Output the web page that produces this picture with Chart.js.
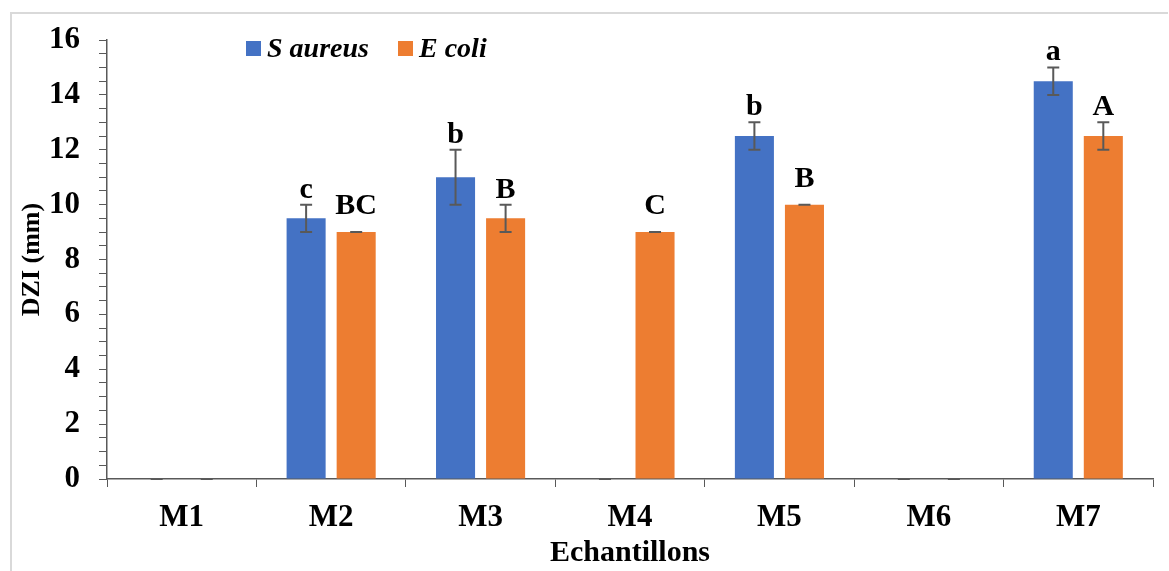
<!DOCTYPE html>
<html>
<head>
<meta charset="utf-8">
<script src="https://cdn.jsdelivr.net/npm/chart.js@4.4.1/dist/chart.umd.min.js"></script>
<style>
  html, body { margin: 0; padding: 0; background: #fff; }
  #wrap { width: 1169px; height: 571px; position: relative; }
</style>
</head>
<body>
<div id="wrap"><canvas id="dzi" width="1169" height="571"></canvas></div>
<script>
const samples = ["M1", "M2", "M3", "M4", "M5", "M6", "M7"];
const aureusMean = [0, 9.5, 11, 0, 12.5, 0, 14.5];
const aureusSd = [0, 0.5, 1, 0, 0.5, 0, 0.5];
const aureusGroup = ["", "c", "b", "", "b", "", "a"];
const coliMean = [0, 9, 9.5, 9, 10, 0, 12.5];
const coliSd = [0, 0, 0.5, 0, 0, 0, 0.5];
const coliGroup = ["", "BC", "B", "C", "B", "", "A"];

const SERIF = "'Liberation Serif', 'Times New Roman', serif";
const AXIS = "#595959";

// error bars + letters above each bar
const errorBars = {
  id: "errorBars",
  afterDatasetsDraw(chart) {
    const ctx = chart.ctx;
    const y = chart.scales.y;
    chart.data.datasets.forEach((ds, i) => {
      const meta = chart.getDatasetMeta(i);
      meta.data.forEach((bar, j) => {
        const m = ds.data[j], s = ds.sd[j];
        const top = y.getPixelForValue(m + s);
        const bot = y.getPixelForValue(m - s);
        ctx.save();
        ctx.strokeStyle = AXIS;
        ctx.lineWidth = 2;
        ctx.beginPath();
        ctx.moveTo(bar.x, top); ctx.lineTo(bar.x, bot);
        ctx.moveTo(bar.x - 6, top); ctx.lineTo(bar.x + 6, top);
        ctx.moveTo(bar.x - 6, bot); ctx.lineTo(bar.x + 6, bot);
        ctx.stroke();
        const g = ds.groups[j];
        if (g) {
          const base = Math.min(y.getPixelForValue(m) - 18, top - 7);
          ctx.fillStyle = "#000";
          ctx.font = "bold 30px " + SERIF;
          ctx.textAlign = "center";
          ctx.textBaseline = "alphabetic";
          ctx.fillText(g, bar.x, base);
        }
        ctx.restore();
      });
    });
  }
};

// legend inside the plot + light frame on top / left
const extras = {
  id: "extras",
  afterDraw(chart) {
    const ctx = chart.ctx;
    ctx.save();
    ctx.strokeStyle = "#d9d9d9";
    ctx.lineWidth = 2;
    ctx.beginPath();
    ctx.moveTo(11, 571); ctx.lineTo(11, 13); ctx.lineTo(1168, 13);
    ctx.stroke();
    const items = [
      { x: 246, ds: chart.data.datasets[0] },
      { x: 398, ds: chart.data.datasets[1] }
    ];
    ctx.font = "italic bold 28px " + SERIF;
    ctx.textBaseline = "alphabetic";
    ctx.textAlign = "left";
    items.forEach(it => {
      ctx.fillStyle = it.ds.backgroundColor;
      ctx.fillRect(it.x, 41, 15, 15);
      ctx.fillStyle = "#000";
      ctx.fillText(it.ds.label, it.x + 21, 57);
    });
    ctx.restore();
  }
};

new Chart(document.getElementById("dzi").getContext("2d"), {
  type: "bar",
  data: {
    labels: samples,
    datasets: [
      { label: "S aureus", data: aureusMean, sd: aureusSd, groups: aureusGroup,
        backgroundColor: "#4472C4", borderWidth: 0 },
      { label: "E coli", data: coliMean, sd: coliSd, groups: coliGroup,
        backgroundColor: "#ED7D31", borderWidth: 0 }
    ]
  },
  options: {
    responsive: false,
    animation: false,
    layout: { padding: { top: 40, right: 16, left: 0, bottom: 0 } },
    categoryPercentage: 0.67,
    barPercentage: 0.78,
    plugins: {
      legend: { display: false },
      tooltip: { enabled: false }
    },
    scales: {
      x: {
        grid: { display: true, drawOnChartArea: false, drawTicks: true, tickLength: 8, color: AXIS, offset: true },
        border: { display: true, color: AXIS, width: 1.5 },
        ticks: { color: "#000", font: { family: SERIF, weight: "bold", size: 31 }, padding: 12 },
        title: { display: true, text: "Echantillons", color: "#000",
                 font: { family: SERIF, weight: "bold", size: 30 }, padding: { top: 0, bottom: 0 } },
        afterFit: s => { s.height = 92; }
      },
      y: {
        min: 0, max: 16,
        grid: { display: true, drawOnChartArea: false, drawTicks: true, tickLength: 8, color: AXIS },
        border: { display: true, color: AXIS, width: 1.5 },
        ticks: { stepSize: 0.5, autoSkip: false, color: "#000", padding: 19,
                 font: { family: SERIF, weight: "bold", size: 31 },
                 callback: v => (v % 2 === 0 ? v : "") },
        title: { display: true, text: "DZI (mm)", color: "#000",
                 font: { family: SERIF, weight: "bold", size: 26 }, padding: { top: 17, bottom: 0 } },
        afterFit: s => { s.width = 107; }
      }
    }
  },
  plugins: [errorBars, extras]
});
</script>
</body>
</html>
